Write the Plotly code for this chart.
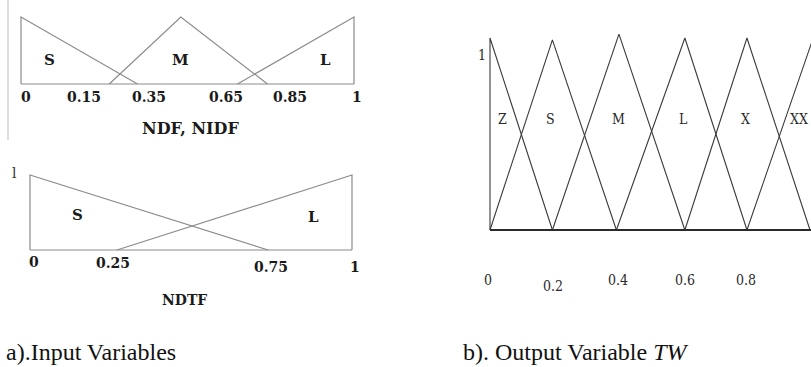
import plotly.graph_objects as go

W, H = 811, 367

# ---------------- data ----------------
# a) top: NDF, NIDF
ndf_names = ["S", "M", "L"]
ndf_x = [[0, 0, 0.35], [0.265, 0.48, 0.74], [0.65, 1, 1]]
ndf_mu = [[0, 1, 0], [0, 1, 0], [0, 1, 0]]
ndf_label_x = [0.087, 0.48, 0.913]
ndf_label_mu = [0.36, 0.36, 0.36]
ndf_tick_text = ["0", "0.15", "0.35", "0.65", "0.85", "1"]
ndf_tick_x = [0.015, 0.19, 0.384, 0.616, 0.808, 1.009]
ndf_title = "NDF, NIDF"

# a) bottom: NDTF
ndtf_names = ["S", "L"]
ndtf_x = [[0, 0, 0.74], [0.27, 1, 1]]
ndtf_mu = [[0, 1, 0], [0, 1, 0]]
ndtf_label_x = [0.146, 0.879]
ndtf_label_mu = [0.47, 0.44]
ndtf_tick_text = ["0", "0.25", "0.75", "1"]
ndtf_tick_x = [0.012, 0.258, 0.748, 1.009]
ndtf_tick_mu = [-0.16, -0.17, -0.23, -0.23]
ndtf_title = "NDTF"

# b) output TW
tw_names = ["Z", "S", "M", "L", "X", "XX"]
tw_x = [[0, 0, 0.195], [0, 0.195, 0.395], [0.195, 0.403, 0.609],
        [0.395, 0.609, 0.803], [0.609, 0.803, 1.0], [0.803, 1.01, 1.21]]
tw_mu = [[0, 1, 0], [0, 0.99, 0], [0, 1.02, 0], [0, 1, 0], [0, 1, 0], [0, 1, 0]]
tw_label_x = [0.0375, 0.1875, 0.4, 0.606, 0.797, 0.966]
tw_label_mu = 0.58
tw_tick_text = ["0", "0.2", "0.4", "0.6", "0.8"]
tw_tick_x = [-0.005, 0.197, 0.4, 0.609, 0.8]
tw_tick_mu = [-0.26, -0.29, -0.26, -0.26, -0.26]

captions = ["a).Input Variables", "b). Output Variable <i>TW</i>"]


# ---------------- layout helpers ----------------
def rng(v0, p0, v1, p1, lo, hi):
    k = (p1 - p0) / (v1 - v0)
    return [v0 + (lo - p0) / k, v0 + (hi - p0) / k]


def xdom(lo, hi):
    return [lo / W, hi / W]


def ydom(top, bot):
    return [1 - bot / H, 1 - top / H]


fig = go.Figure()

LEFT_FONT = dict(family="DejaVu Serif", size=15, color="#1a1a1a", weight="bold")
LEFT_TICK = dict(family="DejaVu Serif", size=14, color="#1a1a1a", weight="bold")
RIGHT_FONT = dict(family="DejaVu Serif Condensed, Liberation Serif", size=14, color="#2a2a2a")
GRAY = "#8c8c8c"

# panel a-top
for xs, ms in zip(ndf_x, ndf_mu):
    fig.add_trace(go.Scatter(x=xs, y=ms, mode="lines", xaxis="x", yaxis="y",
                             line=dict(color=GRAY, width=1.2), hoverinfo="skip"))
fig.add_trace(go.Scatter(x=[0, 1], y=[0, 0], mode="lines", xaxis="x", yaxis="y",
                         line=dict(color=GRAY, width=1.2), hoverinfo="skip"))
# panel a-bottom
for xs, ms in zip(ndtf_x, ndtf_mu):
    fig.add_trace(go.Scatter(x=xs, y=ms, mode="lines", xaxis="x2", yaxis="y2",
                             line=dict(color=GRAY, width=1.2), hoverinfo="skip"))
fig.add_trace(go.Scatter(x=[0, 1], y=[0, 0], mode="lines", xaxis="x2", yaxis="y2",
                         line=dict(color=GRAY, width=1.2), hoverinfo="skip"))
# panel b
for xs, ms in zip(tw_x, tw_mu):
    fig.add_trace(go.Scatter(x=xs, y=ms, mode="lines", xaxis="x3", yaxis="y3",
                             line=dict(color="#3a3a3a", width=1.1), hoverinfo="skip"))
fig.add_trace(go.Scatter(x=[0, 1.2], y=[0, 0], mode="lines", xaxis="x3", yaxis="y3",
                         line=dict(color="#2a2a2a", width=2.2), hoverinfo="skip"))

ann = []
for n, x, m in zip(ndf_names, ndf_label_x, ndf_label_mu):
    ann.append(dict(x=x, y=m, xref="x", yref="y", text=n, font=LEFT_FONT))
for t, x in zip(ndf_tick_text, ndf_tick_x):
    ann.append(dict(x=x, y=-0.19, xref="x", yref="y", text=t, font=LEFT_TICK))
ann.append(dict(x=0.51, y=-0.66, xref="x", yref="y", text=ndf_title,
                font=dict(family="DejaVu Serif", size=16, color="#1a1a1a", weight="bold")))

for n, x, m in zip(ndtf_names, ndtf_label_x, ndtf_label_mu):
    ann.append(dict(x=x, y=m, xref="x2", yref="y2", text=n, font=LEFT_FONT))
for t, x, m in zip(ndtf_tick_text, ndtf_tick_x, ndtf_tick_mu):
    ann.append(dict(x=x, y=m, xref="x2", yref="y2", text=t, font=LEFT_TICK))
ann.append(dict(x=-0.047, y=1.03, xref="x2", yref="y2", text="l",
                font=dict(family="DejaVu Serif", size=14, color="#333")))
ann.append(dict(x=0.481, y=-0.667, xref="x2", yref="y2", text=ndtf_title,
                font=dict(family="DejaVu Serif", size=14, color="#1a1a1a", weight="bold")))

for n, x in zip(tw_names, tw_label_x):
    ann.append(dict(x=x, y=tw_label_mu, xref="x3", yref="y3", text=n, font=RIGHT_FONT))
for t, x, m in zip(tw_tick_text, tw_tick_x, tw_tick_mu):
    ann.append(dict(x=x, y=m, xref="x3", yref="y3", text=t, font=RIGHT_FONT))
ann.append(dict(x=-0.025, y=0.91, xref="x3", yref="y3", text="1", font=RIGHT_FONT))

ann.append(dict(x=4 / W, y=1 - 352 / H, xref="paper", yref="paper", xanchor="left",
                yanchor="middle", text=captions[0],
                font=dict(family="Liberation Serif", size=24, color="#111")))
ann.append(dict(x=461 / W, y=1 - 352 / H, xref="paper", yref="paper", xanchor="left",
                yanchor="middle", text=captions[1],
                font=dict(family="Liberation Serif", size=24, color="#111")))
for a in ann:
    a["showarrow"] = False

hidden = dict(visible=False, fixedrange=True)
fig.update_layout(
    width=W, height=H, margin=dict(l=0, r=0, t=0, b=0),
    paper_bgcolor="white", plot_bgcolor="rgba(0,0,0,0)", showlegend=False,
    xaxis=dict(domain=xdom(0, 420), range=rng(0, 21, 1, 354, 0, 420), anchor="y", **hidden),
    yaxis=dict(domain=ydom(0, 140), range=rng(0, 84, 1, 17, 140, 0), anchor="x", **hidden),
    xaxis2=dict(domain=xdom(0, 420), range=rng(0, 30, 1, 352, 0, 420), anchor="y2", **hidden),
    yaxis2=dict(domain=ydom(140, 320), range=rng(0, 250, 1, 175, 320, 140), anchor="x2", **hidden),
    xaxis3=dict(domain=xdom(440, 811), range=rng(0, 490, 1, 810, 440, 811), anchor="y3", **hidden),
    yaxis3=dict(domain=ydom(0, 320), range=rng(0, 230, 1, 38, 320, 0), anchor="x3", **hidden),
    annotations=ann,
    shapes=[dict(type="line", xref="paper", yref="paper", x0=8 / W, x1=8 / W,
                 y0=1, y1=1 - 140 / H, line=dict(color="#bdbdbd", width=1))],
)

fig.write_html("out.html", config={"displayModeBar": False},
               post_script="document.body.style.margin='0';document.body.style.padding='0';"
                           "document.body.style.overflow='hidden';")
